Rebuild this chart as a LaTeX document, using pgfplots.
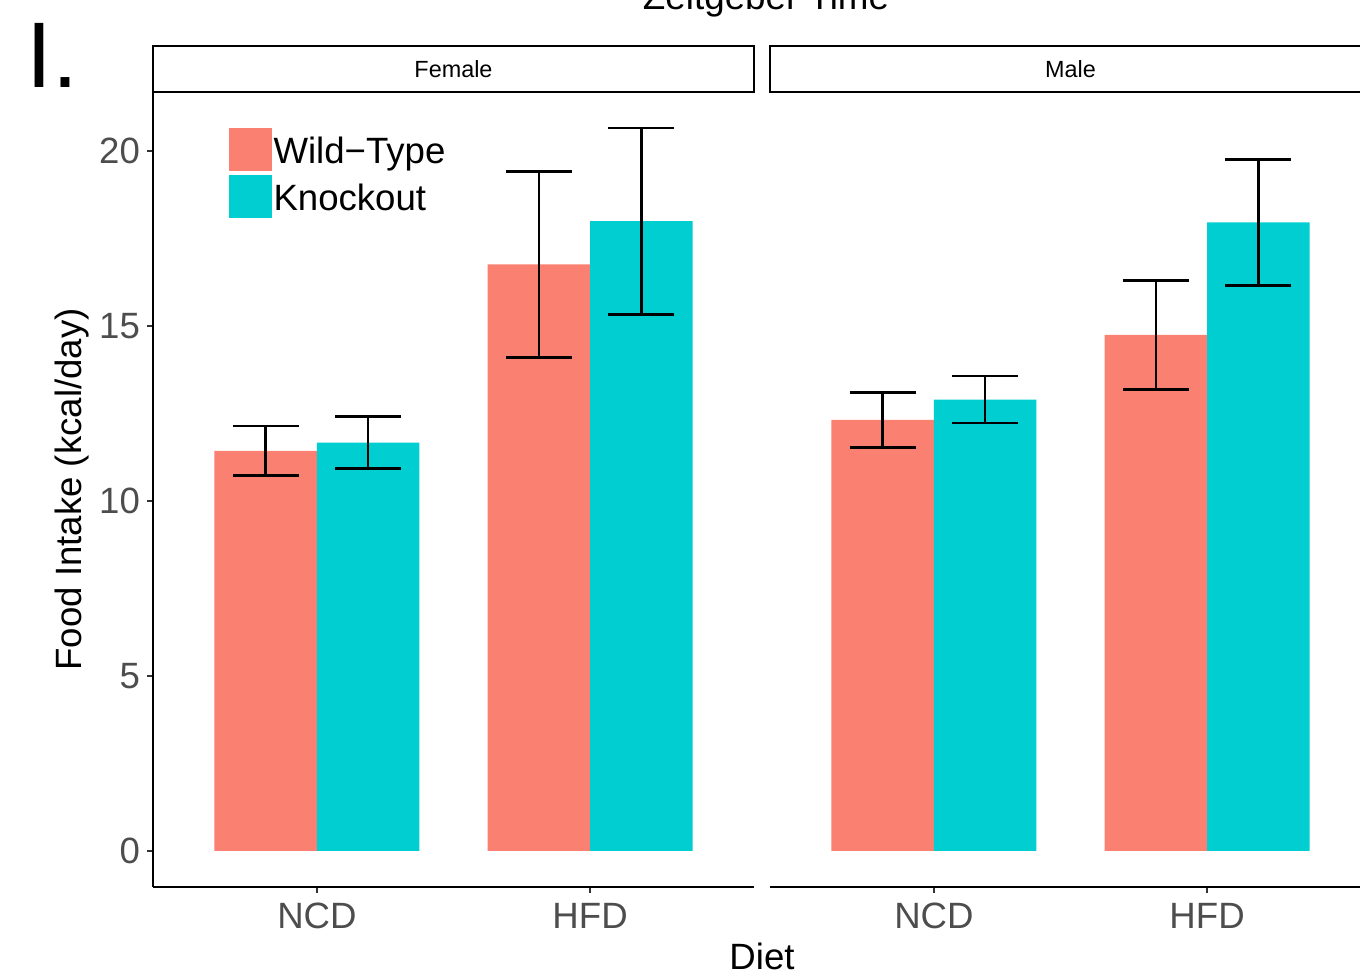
\documentclass[border=0pt]{standalone}
\usepackage{pgfplots}
\usepackage{pgfplotstable}
\pgfplotsset{compat=1.18}
\usepackage{fontspec}
\setmainfont{Liberation Sans}

\definecolor{wtcol}{RGB}{250,128,114}
\definecolor{kocol}{RGB}{0,206,209}
\definecolor{ticklab}{RGB}{77,77,77}
\definecolor{tickcol}{RGB}{51,51,51}

% mean food intake and standard error; x = diet position (1 NCD, 2 HFD) +/- dodge
\pgfplotstableread{
x      y     e
0.8125 11.43 0.71
1.8125 16.76 2.66
}\femwt
\pgfplotstableread{
x      y     e
1.1875 11.67 0.74
2.1875 18.00 2.66
}\femko
\pgfplotstableread{
x      y     e
0.8125 12.32 0.79
1.8125 14.75 1.56
}\malwt
\pgfplotstableread{
x      y     e
1.1875 12.90 0.67
2.1875 17.96 1.81
}\malko

\newcommand{\bigfont}{\fontsize{18.3}{21}\selectfont}

\pgfplotsset{
  panel/.style={
    scale only axis, width=300.5pt, height=397.5pt,
    xmin=0.4, xmax=2.6, ymin=-1.03, ymax=21.69,
    axis x line*=bottom,
    axis line style={line width=1pt, black, -},
    xtick={1,2}, xticklabels={NCD,HFD},
    xticklabel style={yshift=-1.5pt},
    tick align=outside, major tick length=3pt,
    tick style={tickcol, line width=1pt},
    ticklabel style={font=\bigfont, text=ticklab},
    /pgf/number format/assume math mode=true,
    ybar, bar width=0.375,
    error bars/y dir=both, error bars/y explicit,
    error bars/error bar style={black, line width=1.35pt},
    error bars/error mark options={black, rotate=90, mark size=16.5pt, line width=1.35pt},
    clip=false,
  },
}

\begin{document}
\begin{tikzpicture}
\useasboundingbox (0,0) rectangle (680pt,488.5pt);
\clip (0,0) rectangle (680pt,488.5pt);

% Female panel
\begin{axis}[panel, at={(76.5pt,45pt)}, anchor=south west,
    axis y line*=left, ytick={0,5,10,15,20},
    ylabel={Food Intake (kcal/day)},
    every axis y label/.style={at={(axis description cs:-0.135,0.5)},
      rotate=90, anchor=center, font=\bigfont, black},
    legend style={draw=none, fill=none, at={(axis description cs:0.125,0.955)},
      anchor=north west, inner sep=0pt, row sep=2pt, column sep=0pt,
      nodes={inner sep=0pt, font=\bigfont},
      cells={anchor=base west}},
    legend image code/.code={\fill[#1] (0pt,-4pt) rectangle (21.5pt,17.5pt);},
  ]
  \addplot[fill=wtcol, draw=none, bar shift=0pt] table[x=x, y=y, y error=e] {\femwt};
  \addlegendentry{\hspace{1pt}Wild−Type}
  \addplot[fill=kocol, draw=none, bar shift=0pt] table[x=x, y=y, y error=e] {\femko};
  \addlegendentry{\hspace{1pt}Knockout}
\end{axis}

% Male panel
\begin{axis}[panel, at={(385pt,45pt)}, anchor=south west,
    axis y line=none, ytick=\empty]
  \addplot[fill=wtcol, draw=none, bar shift=0pt] table[x=x, y=y, y error=e] {\malwt};
  \addplot[fill=kocol, draw=none, bar shift=0pt] table[x=x, y=y, y error=e] {\malko};
\end{axis}

% facet strips
\draw[line width=1.1pt, black] (76.5pt,442.5pt) rectangle (377pt,465.5pt);
\node[font=\fontsize{11.7}{14}\selectfont] at (226.75pt,454pt) {Female};
\draw[line width=1.1pt, black] (385pt,442.5pt) rectangle (685.5pt,465.5pt);
\node[font=\fontsize{11.7}{14}\selectfont] at (535.25pt,454pt) {Male};

% titles
\node[font=\bigfont, anchor=base] at (381pt,3.5pt) {Diet};
\node[font=\fontsize{18.4}{22}\selectfont, anchor=base] at (383pt,483.5pt) {Zeitgeber Time};
\node[font=\fontsize{46.6}{50}\selectfont, anchor=base west, inner sep=0pt] at (13pt,444.5pt) {I.};
\end{tikzpicture}
\end{document}
